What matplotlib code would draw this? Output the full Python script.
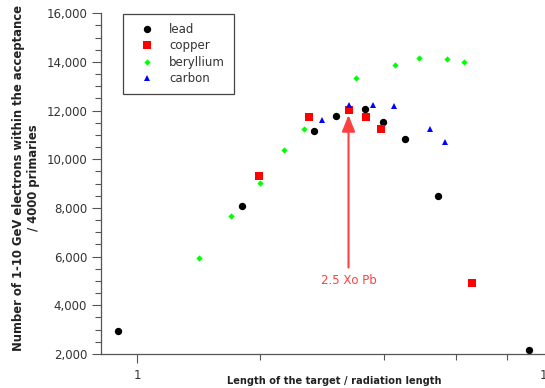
import numpy as np
import matplotlib
matplotlib.use("Agg")
import matplotlib.pyplot as plt
from matplotlib.ticker import FixedLocator, NullFormatter, FuncFormatter

# --- Data: accepted electrons (1-10 GeV) per 4000 primaries vs target length ---
lead_x = [0.90, 1.80, 2.70, 3.05, 3.60, 3.97, 4.50, 5.41, 9.02]
lead_y = [2950, 8080, 11160, 11780, 12070, 11550, 10850, 8480, 2150]

copper_x = [1.98, 2.63, 3.29, 3.62, 3.94, 6.57]
copper_y = [9300, 11740, 12010, 11750, 11260, 4900]

beryllium_x = [1.42, 1.70, 2.00, 2.28, 2.56, 3.42, 4.26, 4.86, 5.71, 6.28]
beryllium_y = [5960, 7690, 9030, 10370, 11230, 13350, 13890, 14170, 14130, 14000]

carbon_x = [2.82, 3.29, 3.76, 4.23, 5.18, 5.64]
carbon_y = [11630, 12230, 12240, 12190, 11250, 10720]

marker_x = 3.28
marker_tip = 11820
marker_text_y = 5000

# --- Figure ---
W, H = 545, 388
fig = plt.figure(figsize=(W / 100, H / 100), dpi=100)
left, right, top, bottom = 101, 568, 13.3, 354
ax = fig.add_axes([left / W, (H - bottom) / H, (right - left) / W, (bottom - top) / H])

ax.plot(lead_x, lead_y, 'o', color='black', ms=5.3, mew=0, label='lead')
ax.plot(copper_x, copper_y, 's', color='#ff0000', ms=5.2, mew=0, label='copper')
ax.plot(beryllium_x, beryllium_y, 'D', color='#00ff00', ms=3.2, mew=0, label='beryllium')
ax.plot(carbon_x, carbon_y, '^', color='#0000ff', ms=5.0, mew=0, label='carbon')

ax.annotate('2.5 Xo Pb', xy=(marker_x, marker_tip), xytext=(marker_x, marker_text_y),
            ha='center', va='center', fontsize=8.5, color='#ff4040',
            arrowprops=dict(arrowstyle='-|>,head_length=0.5,head_width=0.2',
                            mutation_scale=20, color='#ff4040', lw=1.5,
                            shrinkA=3, shrinkB=0))

# --- Axes ---
ax.set_xscale('log')
ax.set_xlim(10 ** ((left - 137) / 410), 10 ** ((right - 137) / 410))
ax.set_ylim(2000, 16000)

ax.xaxis.set_major_locator(FixedLocator([1, 10]))
ax.xaxis.set_major_formatter(FuncFormatter(lambda v, p: '%d' % v))
ax.xaxis.set_minor_locator(FixedLocator([2, 4, 6, 8]))
ax.xaxis.set_minor_formatter(NullFormatter())

ax.yaxis.set_major_locator(FixedLocator(np.arange(2000, 16001, 2000)))
ax.yaxis.set_major_formatter(FuncFormatter(lambda v, p: '{:,.0f}'.format(v)))
ax.yaxis.set_minor_locator(FixedLocator(np.arange(2000, 16001, 500)))

for s in ['top', 'right']:
    ax.spines[s].set_visible(False)
for s in ['left', 'bottom']:
    ax.spines[s].set_color('#555555')
    ax.spines[s].set_linewidth(0.9)

ax.tick_params(which='major', length=6.5, width=0.8, color='#555555',
               labelsize=8.5, labelcolor='#333333')
ax.tick_params(axis='x', which='major', pad=4.5)
ax.tick_params(axis='y', which='major', pad=3.5)
ax.tick_params(which='minor', length=4, width=0.8, color='#555555')

# --- Labels ---
fig.text(334.5 / W, 1 - 380.5 / H, 'Length of the target / radiation length',
         ha='center', va='center', fontsize=7.1, fontweight='bold', color='#222222')
fig.text(25.8 / W, 1 - 178 / H,
         'Number of 1-10 GeV electrons within the acceptance\n/ 4000 primaries',
         ha='center', va='center', rotation=90, fontsize=8.4, fontweight='bold',
         color='#222222', multialignment='center', linespacing=1.25)

leg = ax.legend(loc='upper left', bbox_to_anchor=(123 / W, 1 - 14 / H),
                bbox_transform=fig.transFigure, borderaxespad=0, numpoints=1,
                fontsize=8.5, fancybox=False, framealpha=1, edgecolor='#444444',
                handlelength=2.6, handletextpad=0.55, borderpad=0.75, labelspacing=0.3)
leg.get_frame().set_linewidth(0.9)
for t in leg.get_texts():
    t.set_color('#333333')

fig.savefig('out.png', dpi=100)
